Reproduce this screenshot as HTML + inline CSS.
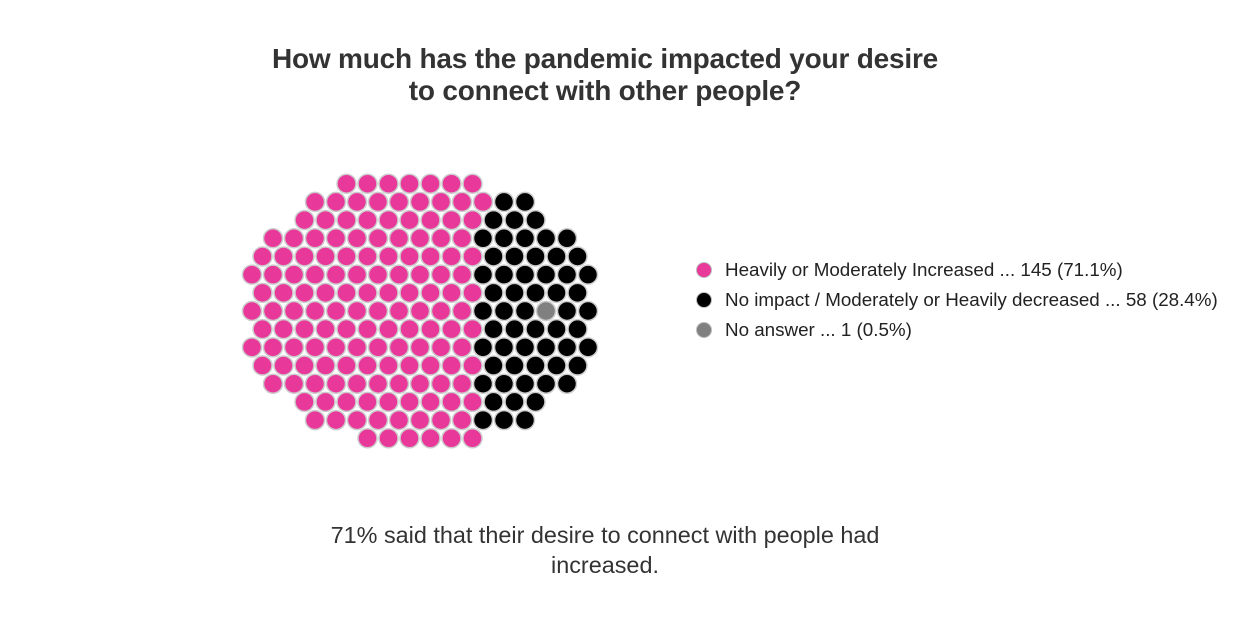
<!DOCTYPE html>
<html><head><meta charset="utf-8"><style>
body{margin:0;background:#fff;width:1260px;height:634px;overflow:hidden;font-family:"Liberation Sans",sans-serif;color:#333}
#title{position:absolute;left:0;width:1210px;top:43px;text-align:center;font-weight:bold;font-size:28px;line-height:32px;color:#333;letter-spacing:-0.2px}
#legend{position:absolute;left:696px;top:255px;font-size:18.8px;color:#222}
.li{height:30px;display:flex;align-items:center}
.sw{width:16px;height:16px;border-radius:50%;border:1px solid #bbb;margin-right:13px;box-sizing:border-box}
#caption{position:absolute;left:0;width:1210px;top:520px;text-align:center;font-size:23.4px;line-height:30px;color:#333}
</style></head><body>
<div id="title">How much has the pandemic impacted your desire<br>to connect with other people?</div>
<svg id="chart" width="1260" height="634" style="position:absolute;left:0;top:0"></svg>
<div id="legend"></div>
<div id="caption">71% said that their desire to connect with people had<br>increased.</div>
<script>
const categories = ["Heavily or Moderately Increased", "No impact / Moderately or Heavily decreased", "No answer"];
const counts = [145, 58, 1];
const percents = ["71.1%", "28.4%", "0.5%"];
const colors = ["#e8399a", "#000000", "#808080"];

const svg = document.getElementById('chart');
const NS = 'http://www.w3.org/2000/svg';
const total = counts.reduce((a,b)=>a+b,0);
const cx = 420, cy = 311, d = 21, rx = 196, ry = 158, r = 9.5;
let pts = [];
for (let j=-12;j<=12;j++){
  for (let i=-14;i<=14;i++){
    const x = cx + i*d + (Math.abs(j)%2 ? d/2 : 0);
    const y = cy + j*d*0.866;
    pts.push({x,y,m:((x-cx)/rx)**2+((y-cy)/ry)**2});
  }
}
pts.sort((a,b)=>a.m-b.m);
pts = pts.slice(0,total);
pts.sort((a,b)=>a.x-b.x || a.y-b.y);
const assign = [];
for (let c=0;c<categories.length;c++){ for(let k=0;k<counts[c];k++) assign.push(c); }
for (let c=2;c<categories.length;c++){
  const start = counts.slice(0,c).reduce((a,b)=>a+b,0);
  const prevStart = counts.slice(0,c-1).reduce((a,b)=>a+b,0);
  for(let k=0;k<counts[c];k++){
    const target = prevStart + Math.floor(counts[c-1]*0.7) + k;
    const t = assign[target]; assign[target]=assign[start+k]; assign[start+k]=t;
  }
}
pts.forEach((p,i)=>{
  const el = document.createElementNS(NS,'circle');
  el.setAttribute('cx',p.x); el.setAttribute('cy',p.y); el.setAttribute('r',r);
  el.setAttribute('fill',colors[assign[i]]); el.setAttribute('stroke','#ccc'); el.setAttribute('stroke-width','1.5');
  
  
  svg.appendChild(el);
});
const lg = document.getElementById('legend');
categories.forEach((c,i)=>{
  const row = document.createElement('div'); row.className='li';
  
  
  const sw = document.createElement('span'); sw.className='sw'; sw.style.background=colors[i];
  
  
  const tx = document.createElement('span'); tx.textContent = c + ' ... ' + counts[i] + ' (' + percents[i] + ')';
  
  
  row.appendChild(sw); row.appendChild(tx); lg.appendChild(row);
});
</script>
</body></html>
